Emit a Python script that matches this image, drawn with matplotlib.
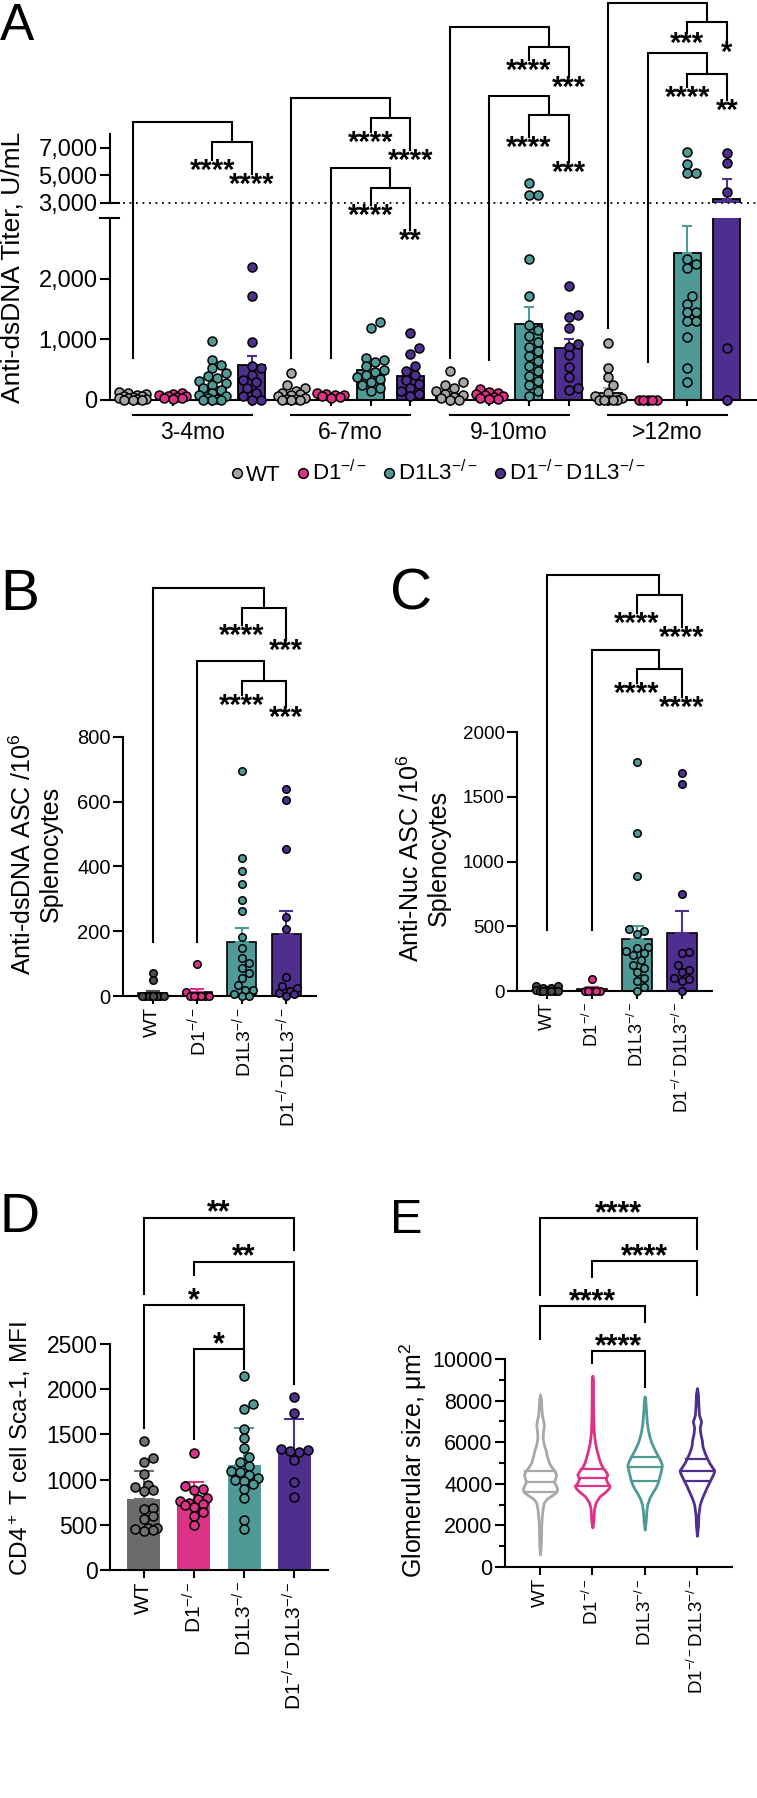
#!python3
import numpy as np
import matplotlib
matplotlib.use('Agg')
import matplotlib.pyplot as plt
from matplotlib import transforms
from matplotlib.lines import Line2D
from matplotlib.ticker import FuncFormatter, MultipleLocator

plt.rcParams['font.family'] = ['Liberation Sans', 'DejaVu Sans']
plt.rcParams['mathtext.fontset'] = 'custom'
plt.rcParams['mathtext.rm'] = 'Liberation Sans'
plt.rcParams['mathtext.it'] = 'Liberation Sans:italic'
plt.rcParams['mathtext.bf'] = 'Liberation Sans:bold'
plt.rcParams['axes.linewidth'] = 1.5

# ---------------- data ----------------
genotypes = ['WT', 'D1$^{-/-}$', 'D1L3$^{-/-}$', 'D1$^{-/-}$D1L3$^{-/-}$']
ages = ['3-4mo', '6-7mo', '9-10mo', '>12mo']

# A: anti-dsDNA titer, U/mL (WT, D1, D1L3, D1D1L3 within each age)
titer_mean = [50, 60, 220, 575, 90, 70, 490, 395, 100, 70, 1260, 850, 120, 0, 2430, 3300]
titer_sem = [15, 10, 50, 150, 30, 10, 80, 100, 35, 15, 280, 160, 80, 0, 440, 1440]
titer_3_4mo = [
    [140, 120, 100, 80, 70, 60, 50, 40, 30, 20, 10, 5, 0, 0],
    [110, 100, 80, 70, 60, 50, 40, 30, 20],
    [980, 660, 580, 520, 450, 400, 360, 320, 280, 240, 200, 160, 120, 90, 60, 40, 20, 0, 0, 0],
    [2200, 1720, 960, 560, 520, 420, 330, 300, 200, 120, 60, 0, 0],
]
titer_6_7mo = [
    [440, 250, 200, 150, 120, 100, 80, 60, 40, 20, 10, 0, 0, 0],
    [120, 100, 90, 80, 60, 50, 40],
    [1290, 1180, 700, 660, 620, 560, 500, 460, 420, 380, 340, 300, 250, 200, 150],
    [1100, 850, 760, 560, 480, 420, 330, 260, 200, 150, 100, 60],
]
titer_9_10mo = [
    [480, 300, 250, 200, 150, 100, 80, 50, 30, 0, 0],
    [180, 140, 120, 100, 80, 60, 50, 40, 20, 10],
    [4450, 3600, 3600, 2330, 1720, 1240, 1150, 1050, 950, 880, 800, 720, 650, 560, 480,
     400, 320, 240, 150, 60],
    [1880, 1400, 1370, 1190, 930, 880, 740, 550, 380, 190, 160],
]
titer_12mo = [
    [940, 520, 380, 240, 120, 60, 30, 0, 0, 0, 0, 0],
    [0, 0, 0, 0, 0],
    [6700, 5840, 5160, 5160, 2330, 2250, 2180, 1720, 1590, 1450, 1450, 1310, 1310, 1040, 520, 300],
    [6640, 5900, 3800, 850, 0],
]

# B: anti-dsDNA ASC / 10^6 splenocytes
dsdna_asc_mean = [10, 13, 166, 190]
dsdna_asc_sem = [6, 10, 45, 72]
dsdna_asc = [
    [72, 50, 0, 0, 0, 0, 0, 0, 0, 0, 0],
    [100, 12, 0, 0, 0, 0, 0, 0],
    [695, 425, 385, 345, 295, 262, 182, 148, 118, 102, 85, 72, 55, 35, 20, 18, 5, 0, 0],
    [640, 605, 453, 245, 207, 60, 30, 25, 15, 10, 5, 0],
]

# C: anti-Nuc ASC / 10^6 splenocytes
nuc_asc_mean = [8, 16, 400, 445]
nuc_asc_sem = [4, 16, 100, 170]
nuc_asc = [
    [40, 35, 25, 20, 10, 5, 0, 0, 0, 0, 0, 0],
    [95, 0, 0, 0, 0, 0],
    [1770, 1220, 890, 480, 460, 440, 340, 330, 310, 290, 280, 240, 200, 180, 150, 100, 80, 30, 0],
    [1680, 1600, 750, 300, 290, 200, 160, 150, 100, 90, 80, 0],
]

# D: CD4+ T cell Sca-1 MFI
sca1_mean = [783, 760, 1160, 1330]
sca1_err = [317, 210, 415, 337]
sca1 = [
    [1430, 1240, 1200, 1060, 940, 920, 880, 870, 690, 670, 600, 560, 470, 460, 450, 440, 430],
    [1290, 930, 900, 880, 800, 780, 760, 740, 730, 720, 700, 640, 600, 500],
    [2150, 1840, 1780, 1560, 1460, 1350, 1250, 1200, 1150, 1100, 1080, 1050, 1020, 1000,
     990, 950, 900, 800, 550, 450],
    [1910, 1740, 1335, 1330, 1320, 1300, 1217, 977, 811],
]

# E: glomerular size violins (level in um^2, relative half-width in %)
glom_levels_wt = [600, 1000, 1500, 2000, 2500, 2800, 3100, 3300, 3450, 3600, 3750, 3900, 4100,
                  4300, 4450, 4600, 4800, 5000, 5300, 5600, 5900, 6200, 6500, 6800, 7000, 7300,
                  7700, 8000, 8300]
glom_width_wt = [0, 4, 6, 7, 11, 15, 22, 41, 70, 93, 100, 93, 81, 89, 93, 85, 67, 52, 41, 33,
                 22, 15, 17, 22, 19, 11, 7, 6, 0]
glom_levels_d1 = [1900, 2200, 2800, 3100, 3400, 3600, 3800, 3900, 4050, 4250, 4450, 4600, 4800,
                  5000, 5300, 5600, 6000, 6500, 7000, 8000, 9000, 9200]
glom_width_d1 = [0, 6, 10, 19, 42, 73, 96, 100, 87, 77, 87, 77, 58, 46, 35, 25, 15, 8, 6, 4, 4, 0]
glom_levels_d1l3 = [1800, 2200, 2700, 3000, 3300, 3600, 3800, 4000, 4200, 4400, 4700, 4900, 5100,
                    5400, 5700, 6000, 6300, 6600, 7000, 7500, 8000, 8200]
glom_width_d1l3 = [0, 6, 10, 15, 27, 46, 62, 73, 81, 87, 96, 100, 92, 73, 54, 38, 27, 19, 12, 8, 4, 0]
glom_levels_dko = [1500, 2000, 2500, 3000, 3300, 3600, 3900, 4100, 4300, 4500, 4650, 4800, 5000,
                   5200, 5500, 5800, 6100, 6400, 6700, 7000, 7300, 7800, 8300, 8600]
glom_width_dko = [0, 6, 8, 16, 28, 44, 60, 72, 84, 96, 100, 88, 72, 60, 44, 32, 28, 20, 16, 24,
                  12, 8, 6, 0]
glom_quartiles = [[3600, 4100, 4600], [3880, 4280, 4730], [4120, 4790, 5290], [4120, 4600, 5190]]

# colours
WT_LIGHT, WT_DARK, WT_MID = '#a6a6a6', '#4d4d4d', '#6b6b6b'
PINK, TEAL, PURPLE = '#dc3386', '#4f9a97', '#4e2f8e'

W, H = 757, 1798
fig = plt.figure(figsize=(W / 100, H / 100), dpi=100)


def box(x0, y0, x1, y1):
    return [x0 / W, 1 - y1 / H, (x1 - x0) / W, (y1 - y0) / H]


def style(ax, ysize, xsize=12):
    for s in ('top', 'right'):
        ax.spines[s].set_visible(False)
    ax.tick_params(axis='y', length=7, width=1.5, labelsize=ysize, pad=2)
    ax.tick_params(axis='x', length=6, width=1.5, labelsize=xsize, pad=2)


def swarm(xc, vals, ypix, ppu, diam, maxw):
    # simple beeswarm in pixel space
    steps = [0.0]
    k = 1
    while k * diam * 0.5 <= maxw + 1e-6:
        steps += [k * diam * 0.5, -k * diam * 0.5]
        k += 1
    placed = []
    off = np.zeros(len(vals))
    for i in np.argsort(vals, kind='stable'):
        best, best_d = 0.0, -1
        for s in steps:
            d = min((np.hypot(s - px, ypix[i] - py) for px, py in placed), default=1e9)
            if d >= diam * 0.9:
                best = s
                break
            if d > best_d:
                best_d, best = d, s
        placed.append((best, ypix[i]))
        off[i] = best
    return xc + off / ppu


def fork(ax, xb, xl, xr, top, join, lend, rend, bend, lab_l, lab_r, star_size=21):
    xm = (xl + xr) / 2
    kw = dict(color='k', lw=1.5, clip_on=False, solid_joinstyle='miter')
    ax.plot([xb, xb, xm, xm], [bend, top, top, join], **kw)
    ax.plot([xl, xl, xr, xr], [lend, join, join, rend], **kw)
    tr = transforms.offset_copy(ax.transData, fig=fig, y=3, units='dots')
    for x, y, lab in ((xl, lend, lab_l), (xr, rend, lab_r)):
        ax.text(x, y, lab, ha='center', va='top', fontsize=star_size, fontweight='bold',
                transform=tr, clip_on=False)


def bracket(ax, x1, x2, y, y1, y2, lab, star_size=22):
    ax.plot([x1, x1, x2, x2], [y1, y, y, y2], color='k', lw=1.5, clip_on=False,
            solid_joinstyle='miter')
    tr = transforms.offset_copy(ax.transData, fig=fig, y=-4, units='dots')
    ax.text((x1 + x2) / 2, y, lab, ha='center', va='baseline', fontsize=star_size,
            fontweight='bold', transform=tr, clip_on=False)


# ---------------- panel A ----------------
ax_lo = fig.add_axes(box(110, 218, 757, 400))
ax_up = fig.add_axes(box(110, 134, 757, 203))
xa = np.arange(16)
a_cols = [WT_LIGHT, PINK, TEAL, PURPLE] * 4
for ax in (ax_lo, ax_up):
    ax.set_xlim(-0.58, 15.76)
    ax.bar(xa, titer_mean, width=0.68, color=a_cols, edgecolor='k', linewidth=1.3, zorder=1)
    style(ax, 17)
    ax.yaxis.set_major_formatter(FuncFormatter(lambda v, p: f'{v:,.0f}'))
ax_lo.set_ylim(0, 3000)
ax_up.set_ylim(3000, 8000)
ax_lo.set_yticks([0, 1000, 2000])
ax_up.set_yticks([3000, 5000, 7000])
ax_up.spines['bottom'].set_visible(False)
ax_up.set_xticks([])
ax_lo.set_xticks(xa)
ax_lo.set_xticklabels([])
ax_lo.tick_params(axis='x', length=4)
ax_lo.plot([-0.0155, 0.0139], [1, 1], transform=ax_lo.transAxes, color='k', lw=1.5, clip_on=False)
ax_up.plot([0, 0.0139], [0, 0], transform=ax_up.transAxes, color='k', lw=1.5, clip_on=False)
ax_up.plot([0.02, 1], [0, 0], transform=ax_up.transAxes, color='k', lw=1.3,
           ls=(0, (1, 2.6)), clip_on=False)

for i in range(16):
    if titer_sem[i] > 0:
        ax = ax_up if titer_mean[i] > 3000 else ax_lo
        ax.errorbar(i, titer_mean[i], yerr=[[0], [titer_sem[i]]], color=a_cols[i],
                    capsize=3.5, lw=1.5, capthick=1.5, zorder=2)

ppu_a = ax_lo.transData.transform((1, 0))[0] - ax_lo.transData.transform((0, 0))[0]
all_titer = titer_3_4mo + titer_6_7mo + titer_9_10mo + titer_12mo
for i, vals in enumerate(all_titer):
    ypix = [(ax_up if v > 3000 else ax_lo).transData.transform((0, v))[1] for v in vals]
    xs = swarm(i, vals, ypix, ppu_a, 9, 13.5)
    for x, v in zip(xs, vals):
        ax = ax_up if v > 3000 else ax_lo
        ax.scatter(x, v, s=42, color=a_cols[i], edgecolor='k', linewidth=1.1, zorder=3,
                   clip_on=False)

# age underlines and labels
tr_a = transforms.blended_transform_factory(ax_lo.transData, ax_lo.transAxes)
for g, age in enumerate(ages):
    ax_lo.plot([4 * g, 4 * g + 3], [-0.082, -0.082], transform=tr_a, color='k', lw=1.5,
               clip_on=False)
    ax_lo.text(4 * g + 1.5, -0.176, age, transform=tr_a, ha='center', va='center',
               fontsize=16.5)


def lo_to_up(v):
    return ax_up.transData.inverted().transform(ax_lo.transData.transform((0, v)))[1]


a_forks = [
    (0, 2, 3, 8870, 7420, 6116, 5100, 700, '****', '****'),
    (4, 6, 7, 10608, 9159, 8145, 6840, 690, '****', '****'),
    (5, 6, 7, 5536, 4087, 2855, 1044, 690, '****', '**'),
    (8, 10, 11, 15753, 14304, 13362, 12130, 690, '****', '***'),
    (9, 10, 11, 10753, 9376, 7782, 5971, 660, '****', '***'),
    (12, 14, 15, 17492, 16115, 15318, 14700, 1190, '***', '*'),
    (13, 14, 15, 13869, 12347, 11405, 10463, 630, '****', '**'),
]
for xb, xl, xr, top, join, le, re, be, l1, l2 in a_forks:
    fork(ax_up, xb, xl, xr, top, join, le, re, lo_to_up(be), l1, l2)

handles = [Line2D([], [], marker='o', ls='', markerfacecolor=c, markeredgecolor='k',
                  markersize=7, markeredgewidth=1.1) for c in (WT_LIGHT, PINK, TEAL, PURPLE)]
fig.legend(handles, genotypes, loc='center', bbox_to_anchor=(437 / W, 1 - 473 / H), ncol=4,
           frameon=False, handletextpad=0.0, columnspacing=0.6, handlelength=0.8,
           fontsize=16, borderpad=0)
fig.text(13 / W, 1 - 267 / H, 'Anti-dsDNA Titer, U/mL', rotation=90, ha='center',
         va='center', fontsize=19)


# ---------------- panels B, C, D ----------------
def dot_bar(rect, means, errs, groups, bar_cols, pt_cols, ylim, yticks, ysize, xsize,
            edge, diam, capsize):
    ax = fig.add_axes(rect)
    x = np.arange(4)
    ax.set_xlim(-0.67, 3.67)
    ax.set_ylim(*ylim)
    ax.set_yticks(yticks)
    style(ax, ysize, xsize)
    ax.bar(x, means, width=0.66, color=bar_cols, edgecolor='k' if edge else bar_cols,
           linewidth=1.2 if edge else 0, zorder=1)
    for i in range(4):
        ax.errorbar(i, means[i], yerr=[[0], [errs[i]]], color=pt_cols[i], capsize=capsize,
                    lw=1.5, capthick=1.5, zorder=2)
    ppu = ax.transData.transform((1, 0))[0] - ax.transData.transform((0, 0))[0]
    for i, vals in enumerate(groups):
        ypix = [ax.transData.transform((0, v))[1] for v in vals]
        xs = swarm(i, vals, ypix, ppu, diam, 0.33 * ppu)
        ax.scatter(xs, vals, s=(diam * 0.72) ** 2, color=pt_cols[i], edgecolor='k',
                   linewidth=1.1, zorder=3, clip_on=False)
    ax.set_xticks(x)
    ax.set_xticklabels(genotypes, rotation=90)
    return ax


ax_b = dot_bar(box(123, 737, 316, 996), dsdna_asc_mean, dsdna_asc_sem, dsdna_asc,
               [WT_DARK, PINK, TEAL, PURPLE], [WT_DARK, PINK, TEAL, PURPLE],
               (0, 800), [0, 200, 400, 600, 800], 14.5, 14, True, 7.5, 5)
for spec in [(0, 2, 3, 1260, 1199, 1146, 1100, 167, '****', '***'),
             (1, 2, 3, 1035, 973, 930, 893, 167, '****', '***')]:
    fork(ax_b, *spec)
fig.text(36 / W, 1 - 854 / H, 'Anti-dsDNA ASC /10$^6$\nSplenocytes', rotation=90,
         ha='center', va='center', fontsize=18, multialignment='center', linespacing=1.15)

ax_c = dot_bar(box(517, 732, 712, 991), nuc_asc_mean, nuc_asc_sem, nuc_asc,
               [WT_DARK, PINK, TEAL, PURPLE], [WT_DARK, PINK, TEAL, PURPLE],
               (0, 2000), [0, 500, 1000, 1500, 2000], 13.5, 13, True, 7.5, 5)
for spec in [(0, 2, 3, 3212, 3058, 2919, 2811, 471, '****', '****'),
             (1, 2, 3, 2633, 2487, 2378, 2270, 471, '****', '****')]:
    fork(ax_c, *spec)
fig.text(424 / W, 1 - 858 / H, 'Anti-Nuc ASC /10$^6$\nSplenocytes', rotation=90,
         ha='center', va='center', fontsize=18, multialignment='center', linespacing=1.15)

ax_d = dot_bar(box(110, 1344, 328, 1570), sca1_mean, sca1_err, sca1,
               [WT_MID, PINK, TEAL, PURPLE], ['#707070', PINK, TEAL, PURPLE],
               (0, 2500), [0, 500, 1000, 1500, 2000, 2500], 16.5, 15, False, 9, 7)
for x1, x2, y, y1, y2, lab in [(0, 3, 3898, 3058, 3545, '**'), (1, 3, 3411, 3263, 2063, '**'),
                               (0, 2, 2930, 1567, 2225, '*'), (1, 2, 2442, 1446, 2300, '*')]:
    bracket(ax_d, x1, x2, y, y1, y2, lab)
fig.text(20 / W, 1 - 1449 / H, 'CD4$^+$ T cell Sca-1, MFI', rotation=90, ha='center',
         va='center', fontsize=17.5)

# ---------------- panel E ----------------
ax_e = fig.add_axes(box(505, 1359, 732, 1567))
ax_e.set_xlim(-0.67, 3.67)
ax_e.set_ylim(0, 10000)
style(ax_e, 15.5, 13.5)
ax_e.yaxis.set_major_locator(MultipleLocator(2000))
ax_e.yaxis.set_minor_locator(MultipleLocator(1000))
ax_e.tick_params(axis='y', which='minor', length=4.5, width=1.5)
violins = [(glom_levels_wt, glom_width_wt, '#a8a8a8'), (glom_levels_d1, glom_width_d1, PINK),
           (glom_levels_d1l3, glom_width_d1l3, TEAL), (glom_levels_dko, glom_width_dko, PURPLE)]
for i, (lev, wid, col) in enumerate(violins):
    lev = np.array(lev, dtype=float)
    hw = np.array(wid) / 100 * 0.33
    ax_e.fill_betweenx(lev, i - hw, i + hw, facecolor='white', edgecolor=col, lw=2.0, zorder=2)
    for q in glom_quartiles[i]:
        h = np.interp(q, lev, hw)
        ax_e.plot([i - h, i + h], [q, q], color=col, lw=1.6, zorder=3)
ax_e.set_xticks(range(4))
ax_e.set_xticklabels(genotypes, rotation=90)
for x1, x2, y, y1, y2 in [(0, 3, 16780, 13078, 15290), (1, 3, 14712, 13943, 13078),
                          (0, 2, 12549, 10962, 11780), (1, 2, 10385, 9808, 8654)]:
    bracket(ax_e, x1, x2, y, y1, y2, '****')
fig.text(413 / W, 1 - 1460 / H, 'Glomerular size, μm$^2$', rotation=90, ha='center',
         va='center', fontsize=18)

# panel letters
for lab, x, y, size in [('A', 0, 40, 37), ('B', 0, 610, 42), ('C', 390, 610, 42),
                        ('D', 0, 1232, 40), ('E', 390, 1233, 35)]:
    fig.text(x / W, 1 - y / H, lab, ha='left', va='baseline', fontsize=size)

fig.savefig('out.png', dpi=100)
